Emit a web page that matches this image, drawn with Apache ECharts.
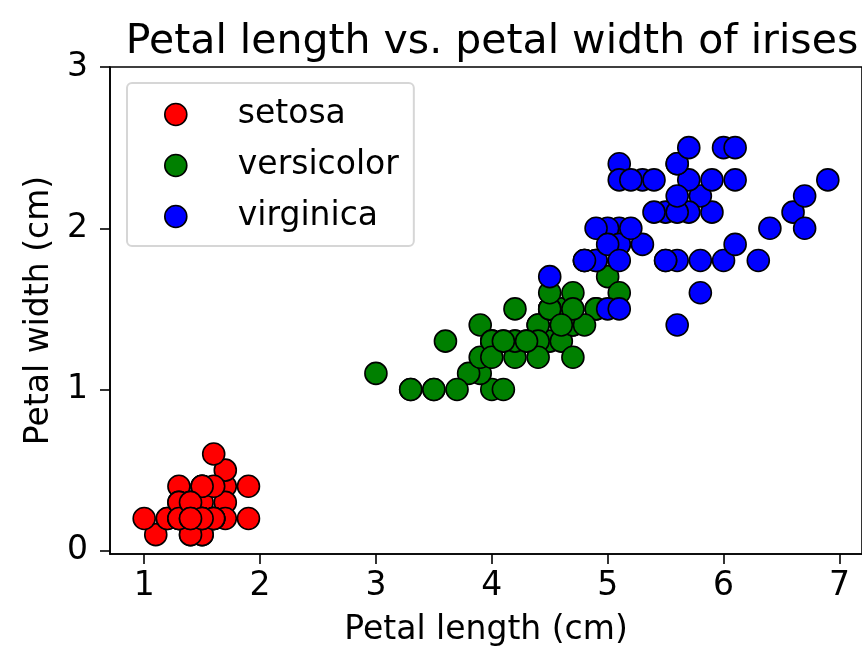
<!DOCTYPE html>
<html>
<head>
<meta charset="utf-8">
<script src="https://cdn.jsdelivr.net/npm/echarts@6/dist/echarts.min.js"></script>
<style>
  html, body { margin: 0; padding: 0; background: #fff; }
  #chart { width: 862px; height: 652px; }
</style>
</head>
<body>
<div id="chart"></div>
<script>
// petal length / width (cm), one pair per flower
var setosa = [
  [1.4,0.2],[1.4,0.2],[1.3,0.2],[1.5,0.2],[1.4,0.2],[1.7,0.4],[1.4,0.3],[1.5,0.2],[1.4,0.2],[1.5,0.1],
  [1.5,0.2],[1.6,0.2],[1.4,0.1],[1.1,0.1],[1.2,0.2],[1.5,0.4],[1.3,0.4],[1.4,0.3],[1.7,0.3],[1.5,0.3],
  [1.7,0.2],[1.5,0.4],[1.0,0.2],[1.7,0.5],[1.9,0.2],[1.6,0.2],[1.6,0.4],[1.5,0.2],[1.4,0.2],[1.6,0.2],
  [1.6,0.2],[1.5,0.4],[1.5,0.1],[1.4,0.2],[1.5,0.2],[1.2,0.2],[1.3,0.2],[1.4,0.1],[1.3,0.2],[1.5,0.2],
  [1.3,0.3],[1.3,0.3],[1.3,0.2],[1.6,0.6],[1.9,0.4],[1.4,0.3],[1.6,0.2],[1.4,0.2],[1.5,0.2],[1.4,0.2]
];
var versicolor = [
  [4.7,1.4],[4.5,1.5],[4.9,1.5],[4.0,1.3],[4.6,1.5],[4.5,1.3],[4.7,1.6],[3.3,1.0],[4.6,1.3],[3.9,1.4],
  [3.5,1.0],[4.2,1.5],[4.0,1.0],[4.7,1.4],[3.6,1.3],[4.4,1.4],[4.5,1.5],[4.1,1.0],[4.5,1.5],[3.9,1.1],
  [4.8,1.8],[4.0,1.3],[4.9,1.5],[4.7,1.2],[4.3,1.3],[4.4,1.4],[4.8,1.4],[5.0,1.7],[4.5,1.5],[3.5,1.0],
  [3.8,1.1],[3.7,1.0],[3.9,1.2],[5.1,1.6],[4.5,1.5],[4.5,1.6],[4.7,1.5],[4.4,1.3],[4.1,1.3],[4.0,1.3],
  [4.4,1.2],[4.6,1.4],[4.0,1.2],[3.3,1.0],[4.2,1.3],[4.2,1.2],[4.2,1.3],[4.3,1.3],[3.0,1.1],[4.1,1.3]
];
var virginica = [
  [6.0,2.5],[5.1,1.9],[5.9,2.1],[5.6,1.8],[5.8,2.2],[6.6,2.1],[4.5,1.7],[6.3,1.8],[5.8,1.8],[6.1,2.5],
  [5.1,2.0],[5.3,1.9],[5.5,2.1],[5.0,2.0],[5.1,2.4],[5.3,2.3],[5.5,1.8],[6.7,2.2],[6.9,2.3],[5.0,1.5],
  [5.7,2.3],[4.9,2.0],[6.7,2.0],[4.9,1.8],[5.7,2.1],[6.0,1.8],[4.8,1.8],[4.9,1.8],[5.6,2.1],[5.8,1.6],
  [6.1,1.9],[6.4,2.0],[5.6,2.2],[5.1,1.5],[5.6,1.4],[6.1,2.3],[5.6,2.4],[5.5,1.8],[4.8,1.8],[5.4,2.1],
  [5.6,2.4],[5.1,2.3],[5.1,1.9],[5.9,2.3],[5.7,2.5],[5.2,2.3],[5.0,1.9],[5.2,2.0],[5.4,2.3],[5.1,1.8]
];
var xTicks = [1, 2, 3, 4, 5, 6, 7];
var yTicks = [0, 1, 2, 3];

var myChart = echarts.init(document.getElementById('chart'));
var font = 'DejaVu Sans';

function series(name, data, color) {
  return {
    name: name,
    type: 'scatter',
    data: data,
    symbolSize: 22,
    itemStyle: { color: color, borderColor: '#000', borderWidth: 1.6, opacity: 1 },
    emphasis: { disabled: true }
  };
}

var option = {
  animation: false,
  title: {
    text: 'Petal length vs. petal width of irises',
    left: 487, top: 17, textAlign: 'center',
    textStyle: { fontFamily: font, fontSize: 41, fontWeight: 'normal', color: '#000' }
  },
  legend: {
    orient: 'vertical',
    left: 127, top: 83,
    padding: [15, 15, 13, 37],
    itemGap: 18,
    itemWidth: 22, itemHeight: 22,
    icon: 'circle',
    borderColor: '#d6d6d6', borderWidth: 2, borderRadius: 5,
    backgroundColor: '#fff',
    itemStyle: { borderColor: '#000', borderWidth: 1.6 },
    textStyle: { fontFamily: font, fontSize: 33, lineHeight: 30, color: '#000', padding: [0, 0, 0, 46] },
    selectedMode: false
  },
  grid: { left: 110, top: 67, right: -3, bottom: 97, show: true, borderColor: '#000', borderWidth: 1.6 },
  xAxis: {
    type: 'value', min: 0.705, max: 7.195,
    name: 'Petal length (cm)', nameLocation: 'middle', nameGap: 60,
    nameTextStyle: { fontFamily: font, fontSize: 33, color: '#000' },
    axisLine: { show: true, onZero: false, lineStyle: { color: '#000', width: 1.6 } },
    axisTick: { show: true, inside: false, length: 10, lineStyle: { color: '#000', width: 1.6 }, customValues: xTicks },
    axisLabel: { fontFamily: font, fontSize: 33, color: '#000', margin: 16, customValues: xTicks },
    splitLine: { show: false }
  },
  yAxis: {
    type: 'value', min: -0.02, max: 3,
    name: 'Petal width (cm)', nameLocation: 'middle', nameGap: 46, nameRotate: 90,
    nameTextStyle: { fontFamily: font, fontSize: 33, color: '#000' },
    axisLine: { show: true, onZero: false, lineStyle: { color: '#000', width: 1.6 } },
    axisTick: { show: true, inside: false, length: 10, lineStyle: { color: '#000', width: 1.6 }, customValues: yTicks },
    axisLabel: { fontFamily: font, fontSize: 33, color: '#000', margin: 22, customValues: yTicks },
    splitLine: { show: false }
  },
  series: [
    series('setosa', setosa, '#ff0000'),
    series('versicolor', versicolor, '#008000'),
    series('virginica', virginica, '#0000ff')
  ]
};

myChart.setOption(option);
</script>
</body>
</html>
